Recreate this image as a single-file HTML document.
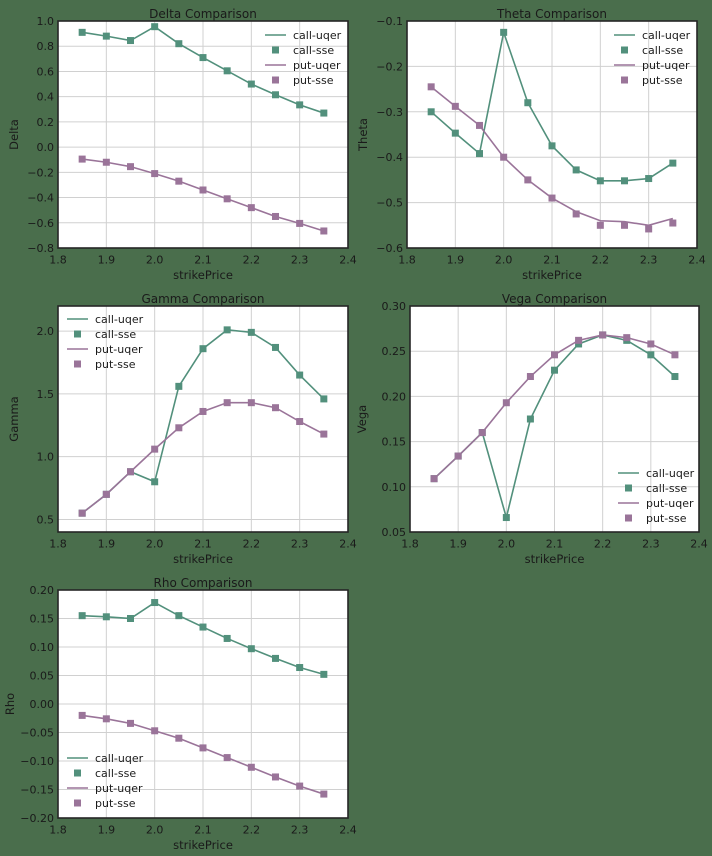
<!DOCTYPE html>
<html><head><meta charset="utf-8"><style>
html,body{margin:0;padding:0;background:#4a6e4c;}
svg{display:block;font-family:"DejaVu Sans","Liberation Sans",sans-serif;}
</style></head><body>
<svg id="s" width="712" height="856" xmlns="http://www.w3.org/2000/svg"></svg>
<script>
const G='#52907c',P='#9a7499';
const xs=[1.85,1.9,1.95,2.0,2.05,2.1,2.15,2.2,2.25,2.3,2.35];
const panels=[
 {t:'Delta Comparison',yl:'Delta',L:58,R:348,T:21,B:248,y0:-0.8,y1:1.0,ticks:[-0.8,-0.6,-0.4,-0.2,0,0.2,0.4,0.6,0.8,1.0],dec:1,
  c:[.91,.88,.845,.955,.82,.71,.605,.50,.415,.335,.27],p:[-.095,-.12,-.155,-.21,-.27,-.34,-.41,-.48,-.55,-.605,-.665],leg:'ur'},
 {t:'Theta Comparison',yl:'Theta',L:407,R:697,T:21,B:248,y0:-0.6,y1:-0.1,ticks:[-0.6,-0.5,-0.4,-0.3,-0.2,-0.1],dec:1,
  c:[-.30,-.347,-.392,-.125,-.28,-.375,-.428,-.452,-.452,-.447,-.413],p:[-.245,-.288,-.33,-.40,-.45,-.49,-.525,-.55,-.55,-.558,-.545],
  pl:[-.245,-.288,-.33,-.40,-.45,-.49,-.52,-.54,-.542,-.55,-.535],leg:'ur'},
 {t:'Gamma Comparison',yl:'Gamma',L:58,R:348,T:306,B:532,y0:0.4,y1:2.2,ticks:[0.5,1.0,1.5,2.0],dec:1,
  c:[.55,.70,.88,.80,1.56,1.86,2.01,1.99,1.87,1.65,1.46],p:[.55,.70,.88,1.06,1.23,1.36,1.43,1.43,1.39,1.28,1.18],leg:'ul'},
 {t:'Vega Comparison',yl:'Vega',L:410,R:699,T:306,B:532,y0:0.05,y1:0.30,ticks:[0.05,0.10,0.15,0.20,0.25,0.30],dec:2,
  c:[.109,.134,.160,.066,.175,.229,.258,.268,.262,.246,.222],p:[.109,.134,.160,.193,.222,.246,.262,.268,.265,.258,.246],leg:'lr'},
 {t:'Rho Comparison',yl:'Rho',L:58,R:348,T:590,B:818,y0:-0.2,y1:0.2,ticks:[-0.2,-0.15,-0.1,-0.05,0,0.05,0.1,0.15,0.2],dec:2,
  c:[.155,.153,.150,.178,.155,.135,.115,.097,.080,.064,.052],p:[-.02,-.026,-.034,-.047,-.06,-.077,-.094,-.111,-.128,-.144,-.158],leg:'ll'}
];
let h='';
for(const q of panels){
 const X=v=>q.L+(v-1.8)/0.6*(q.R-q.L), Y=v=>q.B-(v-q.y0)/(q.y1-q.y0)*(q.B-q.T);
 h+=`<rect x="${q.L}" y="${q.T}" width="${q.R-q.L}" height="${q.B-q.T}" fill="#fff"/>`;
 for(let i=0;i<=6;i++){const x=X(1.8+i*0.1);h+=`<line x1="${x}" y1="${q.T}" x2="${x}" y2="${q.B}" stroke="#d0d0d0" stroke-width="1"/>`;
  h+=`<text x="${x}" y="${q.B+15.5}" font-size="11" fill="#1a1a1a" text-anchor="middle">${(1.8+i*0.1).toFixed(1)}</text>`;}
 for(const t of q.ticks){const y=Y(t);h+=`<line x1="${q.L}" y1="${y}" x2="${q.R}" y2="${y}" stroke="#d0d0d0" stroke-width="1"/>`;
  let s=t.toFixed(q.dec);if(t<0)s='\u2212'+(-t).toFixed(q.dec);
  h+=`<text x="${q.L-4}" y="${y+4}" font-size="11" fill="#1a1a1a" text-anchor="end">${s}</text>`;}
 h+=`<rect x="${q.L}" y="${q.T}" width="${q.R-q.L}" height="${q.B-q.T}" fill="none" stroke="#262626" stroke-width="1.6"/>`;
 const line=(a,c)=>`<polyline fill="none" stroke="${c}" stroke-width="1.6" points="${a.map((v,i)=>X(xs[i])+','+Y(v)).join(' ')}"/>`;
 const mk=(a,c)=>a.map((v,i)=>`<rect x="${X(xs[i])-3.5}" y="${Y(v)-3.5}" width="7" height="7" fill="${c}"/>`).join('');
 h+=line(q.c,G)+mk(q.c,G)+line(q.pl||q.p,P)+mk(q.p,P);
 h+=`<text x="${(q.L+q.R)/2}" y="${q.T-3}" font-size="12" fill="#1a1a1a" text-anchor="middle">${q.t}</text>`;
 h+=`<text x="${(q.L+q.R)/2}" y="${q.B+31}" font-size="11.5" fill="#1a1a1a" text-anchor="middle">strikePrice</text>`;
 const yx=q.L-(q.dec==2?38:34)-6;
 h+=`<text transform="translate(${yx},${(q.T+q.B)/2}) rotate(-90)" font-size="11.5" fill="#1a1a1a" text-anchor="middle">${q.yl}</text>`;
 let lx,ly;
 if(q.leg=='ur'){lx=q.R-83;ly=q.T+14;}else if(q.leg=='ul'){lx=q.L+9;ly=q.T+13;}else if(q.leg=='lr'){lx=q.R-81;ly=q.B-59;}else{lx=q.L+9;ly=q.B-60;}
 const names=['call-uqer','call-sse','put-uqer','put-sse'];
 names.forEach((n,i)=>{const y=ly+i*15,c=i<2?G:P;
  if(i%2==0)h+=`<line x1="${lx}" y1="${y}" x2="${lx+21}" y2="${y}" stroke="${c}" stroke-width="1.6"/>`;
  else h+=`<rect x="${lx+7}" y="${y-3.5}" width="7" height="7" fill="${c}"/>`;
  h+=`<text x="${lx+28}" y="${y+4}" font-size="11" fill="#1a1a1a">${n}</text>`;});
}
document.getElementById('s').innerHTML=h;
</script>
</body></html>
